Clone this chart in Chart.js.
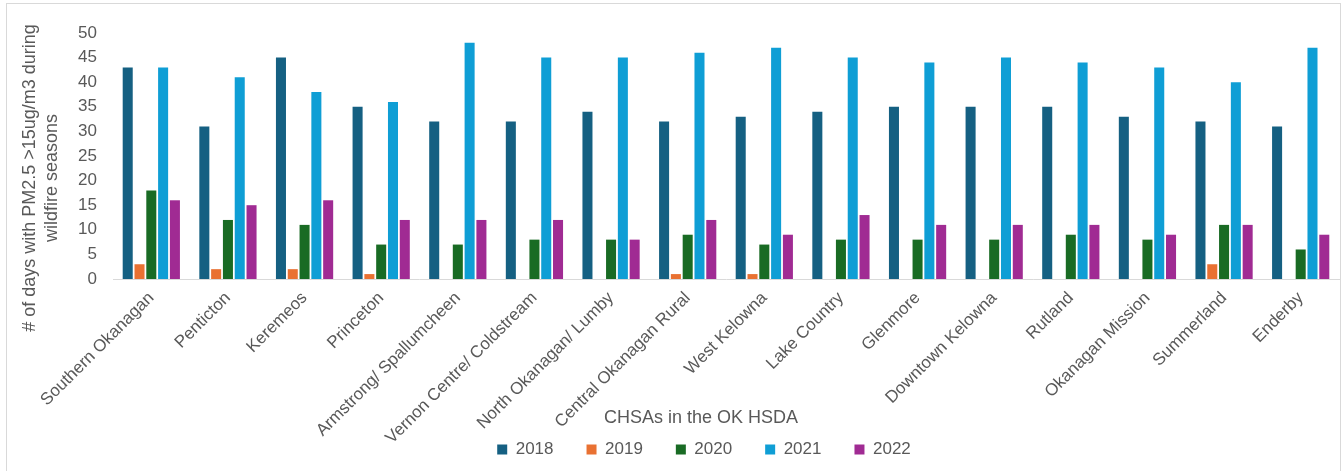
<!DOCTYPE html>
<html>
<head>
<meta charset="utf-8">
<script src="https://cdn.jsdelivr.net/npm/chart.js@4.4.0/dist/chart.umd.min.js"></script>
<style>
  html, body { margin: 0; padding: 0; background: #ffffff; overflow: hidden; }
  #frame { position: absolute; left: 6px; top: 3px; width: 1333px; height: 500px; border: 1px solid #d9d9d9; }
  #wrap { position: absolute; left: 0; top: 0; width: 1343px; height: 471px; }
</style>
</head>
<body>
<div id="frame"></div>
<div id="wrap"><canvas id="chart" width="1343" height="471"></canvas></div>
<script>
// Community Health Service Areas (CHSAs) in the Okanagan HSDA
const categories = [
  "Southern Okanagan", "Penticton", "Keremeos", "Princeton",
  "Armstrong/ Spallumcheen", "Vernon Centre/ Coldstream", "North Okanagan/ Lumby",
  "Central Okanagan Rural", "West Kelowna", "Lake Country", "Glenmore",
  "Downtown Kelowna", "Rutland", "Okanagan Mission", "Summerland", "Enderby"
];

// Days with PM2.5 > 15 ug/m3 during each wildfire season
const days2018 = [43, 31, 45, 35, 32, 32, 34, 32, 33, 34, 35, 35, 35, 33, 32, 31];
const days2019 = [3, 2, 2, 1, 0, 0, 0, 1, 1, 0, 0, 0, 0, 0, 3, 0];
const days2020 = [18, 12, 11, 7, 7, 8, 8, 9, 7, 8, 8, 8, 9, 8, 11, 6];
const days2021 = [43, 41, 38, 36, 48, 45, 45, 46, 47, 45, 44, 45, 44, 43, 40, 47];
const days2022 = [16, 15, 16, 12, 12, 12, 8, 12, 9, 13, 11, 11, 11, 9, 11, 9];

const seasons = ["2018", "2019", "2020", "2021", "2022"];
const seriesValues = [days2018, days2019, days2020, days2021, days2022];
const seriesColors = ["#156082", "#E97132", "#196B24", "#0F9ED5", "#A02B93"];

const yTicksMax = 50;
const yTicksStep = 5;

const yTitleLines = ["# of days with PM2.5 >15ug/m3 during", "wildfire seasons"];
const xTitle = "CHSAs in the OK HSDA";

const textColor = "#595959";
const fontFamily = '"Liberation Sans", Arial, sans-serif';

// Axis titles placed relative to the plot area
const axisTitles = {
  id: "axisTitles",
  afterDraw(chart) {
    const { ctx, chartArea } = chart;
    ctx.save();
    ctx.fillStyle = textColor;
    ctx.textAlign = "center";
    ctx.textBaseline = "middle";

    ctx.font = "18px " + fontFamily;
    ctx.save();
    ctx.translate(chartArea.left - 83, (chartArea.top + chartArea.bottom) / 2 + 22);
    ctx.rotate(-Math.PI / 2);
    yTitleLines.forEach((line, i) => ctx.fillText(line, 0, i * 22));
    ctx.restore();

    ctx.font = "18px " + fontFamily;
    ctx.fillText(xTitle, (chartArea.left + chartArea.right) / 2 - 25, chartArea.bottom + 139);
    ctx.restore();
  }
};

const datasets = seasons.map((label, i) => ({
  label: label,
  data: seriesValues[i],
  backgroundColor: seriesColors[i],
  borderWidth: 0,
  categoryPercentage: 0.77,
  barPercentage: 0.85
}));

new Chart(document.getElementById("chart"), {
  type: "bar",
  data: { labels: categories, datasets: datasets },
  options: {
    responsive: false,
    animation: false,
    layout: { padding: { left: 69, right: 4, top: 33, bottom: 3 } },
    plugins: {
      tooltip: { enabled: false },
      legend: {
        position: "bottom",
        labels: {
          boxWidth: 10,
          boxHeight: 10,
          padding: 33,
          color: textColor,
          font: { size: 17, family: fontFamily }
        }
      }
    },
    scales: {
      x: {
        grid: { display: false, drawTicks: false },
        border: { display: true, color: "#d9d9d9", width: 1 },
        ticks: {
          color: textColor,
          font: { size: 17, family: fontFamily },
          minRotation: 45,
          maxRotation: 45,
          autoSkip: false,
          padding: 9
        },
        afterFit(scale) {
          scale.height = 129;
          // long rotated names run down past the axis box, keep them whole
          scale._computeLabelArea = () => undefined;
        }
      },
      y: {
        min: 0,
        max: yTicksMax,
        grid: { display: false, drawTicks: false },
        border: { display: false },
        ticks: {
          stepSize: yTicksStep,
          color: textColor,
          font: { size: 17, family: fontFamily },
          padding: 16
        },
        afterFit(scale) { scale.width = 44; }
      }
    }
  },
  plugins: [axisTitles]
});
</script>
</body>
</html>
